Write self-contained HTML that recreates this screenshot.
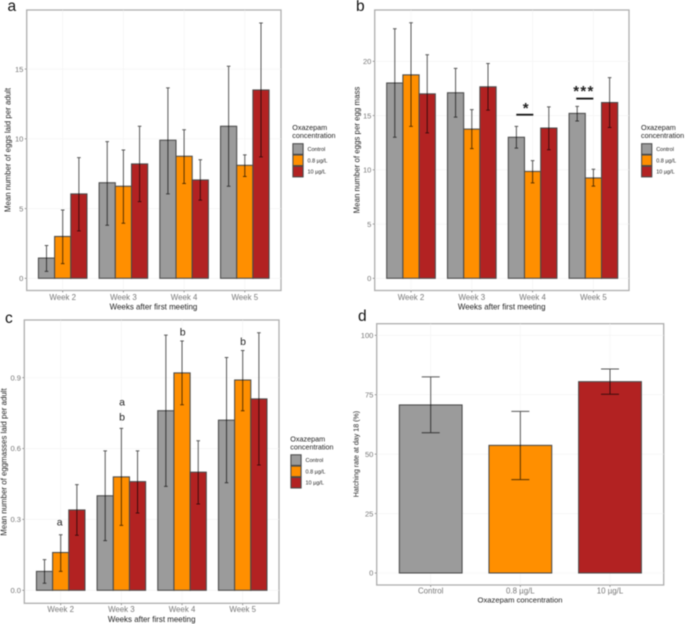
<!DOCTYPE html>
<html>
<head>
<meta charset="utf-8">
<title>Oxazepam panels</title>
<style>
html,body{margin:0;padding:0;background:#fff;width:685px;height:624px;overflow:hidden}
svg{display:block;filter:blur(.42px);font-family:"Liberation Sans",sans-serif}
</style>
</head>
<body>
<svg id="fig" xmlns="http://www.w3.org/2000/svg" width="685" height="624" viewBox="0 0 685 624"></svg>
<script>
const weeks = ['Week 2', 'Week 3', 'Week 4', 'Week 5'];
const groups = ['Control', '0.8 µg/L', '10 µg/L'];
const colors = ['#9b9b9b', '#ff8f00', '#b22222'];

const aTicks = [0, 5, 10, 15];
const aControl = [1.45, 6.85, 9.9, 10.9];
const aLow = [3, 6.6, 8.75, 8.1];
const aHigh = [6.05, 8.2, 7.05, 13.5];
const aControlErrLo = [0.5, 3.8, 6.05, 6.6];
const aControlErrHi = [2.35, 9.8, 13.65, 15.2];
const aLowErrLo = [1.05, 3.95, 6.8, 7.3];
const aLowErrHi = [4.9, 9.2, 10.65, 8.85];
const aHighErrLo = [3.4, 5.5, 5.6, 8.7];
const aHighErrHi = [8.65, 10.9, 8.5, 18.3];

const bTicks = [0, 5, 10, 15, 20];
const bControl = [18, 17.1, 13, 15.2];
const bLow = [18.75, 13.75, 9.85, 9.25];
const bHigh = [17, 17.65, 13.85, 16.2];
const bControlErrLo = [13, 14.85, 12, 14.5];
const bControlErrHi = [23, 19.35, 14, 15.85];
const bLowErrLo = [14, 11.95, 8.8, 8.5];
const bLowErrHi = [23.55, 15.55, 10.85, 10.05];
const bHighErrLo = [13.4, 15.5, 11.85, 13.9];
const bHighErrHi = [20.6, 19.8, 15.8, 18.5];

const cTicks = ['0.0', '0.3', '0.6', '0.9'];
const cControl = [0.08, 0.4, 0.76, 0.72];
const cLow = [0.16, 0.48, 0.92, 0.89];
const cHigh = [0.34, 0.46, 0.5, 0.81];
const cControlErrLo = [0.03, 0.21, 0.44, 0.455];
const cControlErrHi = [0.13, 0.59, 1.08, 0.985];
const cLowErrLo = [0.08, 0.275, 0.785, 0.76];
const cLowErrHi = [0.235, 0.685, 1.055, 1.015];
const cHighErrLo = [0.233, 0.327, 0.365, 0.53];
const cHighErrHi = [0.447, 0.59, 0.633, 1.09];

const dTicks = [0, 25, 50, 75, 100];
const dValues = [70.7, 53.7, 80.5];
const dErrLo = [59, 39.3, 75.2];
const dErrHi = [82.5, 68, 85.8];

const svg = document.getElementById('fig');
const NS = 'http://www.w3.org/2000/svg';

function make(tag, attrs, parent, text) {
  const el = document.createElementNS(NS, tag);
  for (const k in attrs) el.setAttribute(k, attrs[k]);
  if (text !== undefined) el.textContent = text;
  parent.appendChild(el);
  return el;
}

function label(parent, x, y, text, size, fill, anchor, rotate) {
  const attrs = {x: x, y: y, 'font-size': size, fill: fill, 'text-anchor': anchor || 'start'};
  if (rotate) attrs.transform = 'rotate(-90 ' + x + ' ' + y + ')';
  return make('text', attrs, parent, text);
}

function frame(g, p) {
  const r = make('rect', {x: p.left, y: p.top, width: p.right - p.left, height: p.bottom - p.top, fill: '#fff', stroke: '#aeaeae', 'stroke-width': 1.3}, g);
  
  
}

function yAxis(g, p, ticks, yOf) {
  ticks.forEach(function (t) {
    const y = yOf(Number(t));
    const grid = make('line', {x1: p.left, x2: p.right, y1: y, y2: y, stroke: '#f3f3f3', 'stroke-width': 0.6}, g);
    
    
    const tick = make('line', {x1: p.left - 2, x2: p.left, y1: y, y2: y, stroke: '#666', 'stroke-width': 0.6}, g);
    
    
    const tx = label(g, p.left - 3.3, y + 2.7, String(t), 7.6, '#777', 'end');
    
    
  });
}

function xAxis(g, p, cats, xOf) {
  cats.forEach(function (c, i) {
    const x = xOf(i);
    const grid = make('line', {x1: x, x2: x, y1: p.top, y2: p.bottom, stroke: '#f3f3f3', 'stroke-width': 0.6}, g);
    
    
    const tick = make('line', {x1: x, x2: x, y1: p.bottom, y2: p.bottom + 2, stroke: '#666', 'stroke-width': 0.6}, g);
    
    
    const tx = label(g, x, p.xTickY, c, 7.9, '#777', 'middle');
    
    
  });
}

function bar(g, x, w, y0, y, fill) {
  const r = make('rect', {x: x, y: Math.min(y, y0), width: w, height: Math.abs(y0 - y), fill: fill, stroke: '#4a4a4a', 'stroke-width': 1.05}, g);
  
  
}

function errorBar(g, x, capW, yLo, yHi) {
  const e = make('path', {
    d: 'M' + (x - capW / 2) + ' ' + yHi + 'H' + (x + capW / 2) + 'M' + x + ' ' + yHi + 'V' + yLo + 'M' + (x - capW / 2) + ' ' + yLo + 'H' + (x + capW / 2),
    fill: 'none', stroke: '#000', 'stroke-opacity': 0.66, 'stroke-width': 1
  }, g);
  
  
}

function titles(g, p, xTitle, yTitle) {
  const a = label(g, p.xTitleX, p.xTitleY, xTitle, 7.95, '#222', 'middle');
  
  
  const b = label(g, p.yTitleX, p.yTitleY, yTitle, 7.9, '#222', 'middle', true);
  
  
}

function legend(g, x, y) {
  const t1 = label(g, x, y, 'Oxazepam', 7.2, '#222');
  
  
  const t2 = label(g, x, y + 8, 'concentration', 7.2, '#222');
  
  
  groups.forEach(function (name, i) {
    const top = y + 13.5 + i * 11.3;
    const k = make('rect', {x: x + 0.6, y: top, width: 10.2, height: 10.6, fill: colors[i], stroke: '#4a4a4a', 'stroke-width': 1.05}, g);
    
    
    const l = label(g, x + 15.2, top + 7.3, name, 5.5, '#222');
    
    
  });
}

function groupedPanel(name, p, ticks, unit, series, lows, highs, yTitle) {
  const g = make('g', {}, svg);
  
  
  const yOf = function (v) { return p.y0 - v * unit; };
  const xOf = function (i) { return p.x0 + i * p.step; };
  frame(g, p);
  yAxis(g, p, ticks, yOf);
  xAxis(g, p, weeks, xOf);
  const w = p.step * 0.8 / 3;
  series.forEach(function (vals, s) {
    vals.forEach(function (v, i) {
      bar(g, xOf(i) + (s - 1.5) * w, w, yOf(0), yOf(v), colors[s]);
    });
  });
  series.forEach(function (vals, s) {
    vals.forEach(function (v, i) {
      errorBar(g, xOf(i) + (s - 1) * w, 3.6, yOf(lows[s][i]), yOf(highs[s][i]));
    });
  });
  titles(g, p, 'Weeks after first meeting', yTitle);
  legend(g, p.legendX, p.legendY);
}

groupedPanel('panel-a',
  {left: 26.7, right: 281, top: 10, bottom: 290.5, y0: 278.3, x0: 62.7, step: 60.7, xTickY: 299.8, xTitleX: 153.5, xTitleY: 309.5, yTitleX: 10.5, yTitleY: 150, legendX: 292.3, legendY: 130.2},
  aTicks, 13.95, [aControl, aLow, aHigh], [aControlErrLo, aLowErrLo, aHighErrLo], [aControlErrHi, aLowErrHi, aHighErrHi],
  'Mean number of eggs laid per adult');

groupedPanel('panel-b',
  {left: 374.7, right: 629, top: 10, bottom: 290.5, y0: 278.3, x0: 411, step: 60.8, xTickY: 299.8, xTitleX: 501.7, xTitleY: 309.5, yTitleX: 359.5, yTitleY: 150, legendX: 641, legendY: 130.2},
  bTicks, 10.85, [bControl, bLow, bHigh], [bControlErrLo, bLowErrLo, bHighErrLo], [bControlErrHi, bLowErrHi, bHighErrHi],
  'Mean number of eggs per egg mass');

groupedPanel('panel-c',
  {left: 24.3, right: 279, top: 320, bottom: 603.3, y0: 590.3, x0: 60.7, step: 60.67, xTickY: 612, xTitleX: 151.7, xTitleY: 621.8, yTitleX: 6.5, yTitleY: 462, legendX: 290.3, legendY: 441.3},
  cTicks, 236.3, [cControl, cLow, cHigh], [cControlErrLo, cLowErrLo, cHighErrLo], [cControlErrHi, cLowErrHi, cHighErrHi],
  'Mean number of eggmasses laid per adult');

(function () {
  const p = {left: 376.7, right: 663.7, top: 323.7, bottom: 585, y0: 573, x0: 430.7, step: 89.65, xTickY: 593.3, xTitleX: 520, xTitleY: 602.3, yTitleX: 358.5, yTitleY: 454};
  const g = make('g', {}, svg);
  
  
  const yOf = function (v) { return p.y0 - v * 2.377; };
  const xOf = function (i) { return p.x0 + i * p.step; };
  frame(g, p);
  yAxis(g, p, dTicks, yOf);
  xAxis(g, p, groups, xOf);
  const w = p.step * 0.7;
  dValues.forEach(function (v, i) {
    bar(g, xOf(i) - w / 2, w, yOf(0), yOf(v), colors[i]);
  });
  dValues.forEach(function (v, i) {
    errorBar(g, xOf(i), 18, yOf(dErrLo[i]), yOf(dErrHi[i]));
  });
  const a = label(g, p.xTitleX, p.xTitleY, 'Oxazepam concentration', 7.65, '#222', 'middle');
  
  
  const b = label(g, p.yTitleX, p.yTitleY, 'Hatching rate at day 18 (%)', 7.1, '#222', 'middle', true);
  
  
})();
</script>
<svg xmlns="http://www.w3.org/2000/svg" width="685" height="624" viewBox="0 0 685 624" style="position:absolute;left:0;top:0;font-family:'Liberation Sans',sans-serif">
  <text x="7.5" y="11" font-size="15.5" fill="#111">a</text>
  <text x="356" y="11" font-size="15.5" fill="#111">b</text>
  <text x="5" y="323" font-size="15.5" fill="#111">c</text>
  <text x="358" y="321" font-size="15.5" fill="#111">d</text>
  <rect x="516.3" y="113.8" width="17" height="1.8" fill="#111"/>
  <text x="525.7" y="113" font-size="15" font-weight="bold" text-anchor="middle" fill="#222">*</text>
  <rect x="576.3" y="97.7" width="17" height="1.8" fill="#111"/>
  <text x="584" y="96" font-size="15" font-weight="bold" letter-spacing="1.3" text-anchor="middle" fill="#222">***</text>
  <text x="59.7" y="525.5" font-size="10.5" text-anchor="middle" fill="#222">a</text>
  <text x="122" y="405.5" font-size="10.5" text-anchor="middle" fill="#222">a</text>
  <text x="122" y="420.5" font-size="10.5" text-anchor="middle" fill="#222">b</text>
  <text x="182.7" y="335.5" font-size="10.5" text-anchor="middle" fill="#222">b</text>
  <text x="243" y="345" font-size="10.5" text-anchor="middle" fill="#222">b</text>
</svg>
</body>
</html>
